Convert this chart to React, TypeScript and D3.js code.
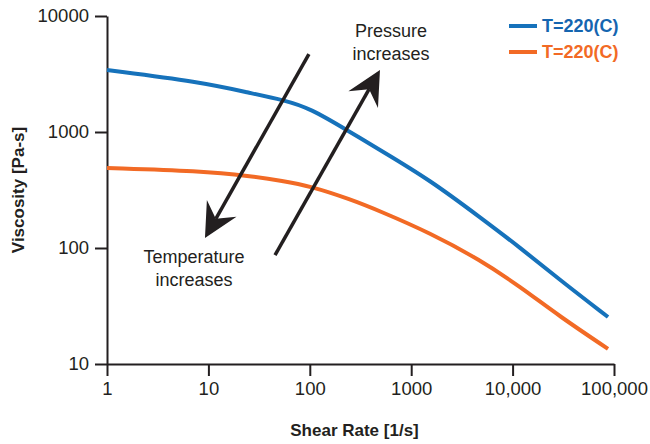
import React, { useEffect, useRef } from 'react';
import * as d3 from 'd3';

// shear rate [1/s] sampled along both curves
const shearRate = [1, 8.26, 25.7, 54.4, 100, 249, 492, 1531, 4770, 11830, 29300, 87300];
const viscosityBlue = [3420, 2700, 2170, 1888, 1610, 1000, 700, 385, 184, 101, 53, 25.4];
const viscosityOrange = [490, 461, 418, 378, 342, 264, 208, 135, 79, 46.5, 25.6, 13.5];

const seriesNames = ['T=220(C)', 'T=220(C)'];
const seriesColors = ['#1672bb', '#f26a25'];
const legendTextColors = ['#1565b0', '#f26a25'];

const xTicks = [1, 10, 100, 1000, 10000, 100000];
const xTickLabels = ['1', '10', '100', '1000', '10,000', '100,000'];
const yTicks = [10, 100, 1000, 10000];
const yTickLabels = ['10', '100', '1000', '10000'];

// arrows in data coordinates [shear rate, viscosity]
const arrowTemperature = { from: [98, 4700], to: [9.25, 122] };
const arrowPressure = { from: [45.4, 87], to: [492, 3420] };
const labelTemperature = { at: [7.2, 84], lines: ['Temperature', 'increases'] };
const labelPressure = { at: [631, 7430], lines: ['Pressure', 'increases'] };

const W = 650;
const H = 444;
const margin = { top: 16, right: 36, bottom: 80, left: 107 };
const ink = '#231f20';
const font = '"Liberation Sans", Arial, sans-serif';

const App = () => {
  const ref = useRef<SVGSVGElement>(null);

  useEffect(() => {
    const svg = d3.select(ref.current);
    svg.selectAll('*').remove();

    const x = d3.scaleLog().domain([1, 100000]).range([margin.left, W - margin.right]);
    const y = d3.scaleLog().domain([10, 10000]).range([H - margin.bottom, margin.top]);

    // axes
    const xAxis = d3
      .axisBottom(x)
      .tickValues(xTicks)
      .tickSize(12)
      .tickSizeOuter(0)
      .tickPadding(6)
      .tickFormat((d, i) => xTickLabels[i]);
    const yAxis = d3
      .axisLeft(y)
      .tickValues(yTicks)
      .tickSize(12)
      .tickSizeOuter(0)
      .tickPadding(6)
      .tickFormat((d, i) => yTickLabels[i]);

    const gx = svg.append('g').attr('transform', `translate(0,${H - margin.bottom})`).call(xAxis);
    const gy = svg.append('g').attr('transform', `translate(${margin.left},0)`).call(yAxis);
    [gx, gy].forEach((g) => {
      g.selectAll('path, line').attr('stroke', ink).attr('stroke-width', 2);
      g.selectAll('text').attr('fill', ink).style('font-family', font).style('font-size', '18.5px');
    });

    // axis titles
    svg
      .append('text')
      .attr('x', (margin.left + W - margin.right) / 2 - 6)
      .attr('y', 430)
      .attr('text-anchor', 'middle')
      .attr('dominant-baseline', 'central')
      .attr('fill', ink)
      .style('font-family', font)
      .style('font-size', '17px')
      .style('font-weight', 'bold')
      .text('Shear Rate [1/s]');
    svg
      .append('text')
      .attr('transform', `translate(18,${(margin.top + H - margin.bottom) / 2}) rotate(-90)`)
      .attr('text-anchor', 'middle')
      .attr('dominant-baseline', 'central')
      .attr('fill', ink)
      .style('font-family', font)
      .style('font-size', '17px')
      .style('font-weight', 'bold')
      .text('Viscosity [Pa-s]');

    // curves
    const line = d3
      .line<[number, number]>()
      .x((d) => x(d[0]))
      .y((d) => y(d[1]))
      .curve(d3.curveBasis);
    [viscosityBlue, viscosityOrange].forEach((vals, i) => {
      svg
        .append('path')
        .datum(shearRate.map((s, j) => [s, vals[j]] as [number, number]))
        .attr('d', line)
        .attr('fill', 'none')
        .attr('stroke', seriesColors[i])
        .attr('stroke-width', 4);
    });

    // arrows
    const drawArrow = (a: { from: number[]; to: number[] }) => {
      const x0 = x(a.from[0]);
      const y0 = y(a.from[1]);
      const x1 = x(a.to[0]);
      const y1 = y(a.to[1]);
      const len = Math.hypot(x1 - x0, y1 - y0);
      const ux = (x1 - x0) / len;
      const uy = (y1 - y0) / len;
      const px = -uy;
      const py = ux;
      const headLen = 34;
      const half = 17;
      const notch = 22;
      svg
        .append('line')
        .attr('x1', x0)
        .attr('y1', y0)
        .attr('x2', x1 - ux * notch)
        .attr('y2', y1 - uy * notch)
        .attr('stroke', ink)
        .attr('stroke-width', 3.5);
      const pts = [
        [x1, y1],
        [x1 - ux * headLen + px * half, y1 - uy * headLen + py * half],
        [x1 - ux * notch, y1 - uy * notch],
        [x1 - ux * headLen - px * half, y1 - uy * headLen - py * half],
      ];
      svg.append('polygon').attr('points', pts.map((p) => p.join(',')).join(' ')).attr('fill', ink);
    };
    drawArrow(arrowTemperature);
    drawArrow(arrowPressure);

    // annotation labels
    [labelTemperature, labelPressure].forEach((lab) => {
      const t = svg
        .append('text')
        .attr('text-anchor', 'middle')
        .attr('fill', ink)
        .style('font-family', font)
        .style('font-size', '18px');
      lab.lines.forEach((s, i) => {
        t.append('tspan')
          .attr('x', x(lab.at[0]))
          .attr('y', y(lab.at[1]) + i * 23)
          .attr('dominant-baseline', 'central')
          .text(s);
      });
    });

    // legend
    seriesNames.forEach((name, i) => {
      const ly = 26 + i * 26;
      svg
        .append('line')
        .attr('x1', 509)
        .attr('x2', 537)
        .attr('y1', ly)
        .attr('y2', ly)
        .attr('stroke', seriesColors[i])
        .attr('stroke-width', 4);
      svg
        .append('text')
        .attr('x', 542)
        .attr('y', ly)
        .attr('dominant-baseline', 'central')
        .attr('fill', legendTextColors[i])
        .style('font-family', font)
        .style('font-size', '18px')
        .style('font-weight', 'bold')
        .text(name);
    });
  }, []);

  return (
    <svg
      ref={ref}
      width={W}
      height={H}
      style={{ position: 'absolute', left: 0, top: 0, background: '#fff' }}
    />
  );
};

export default App;
